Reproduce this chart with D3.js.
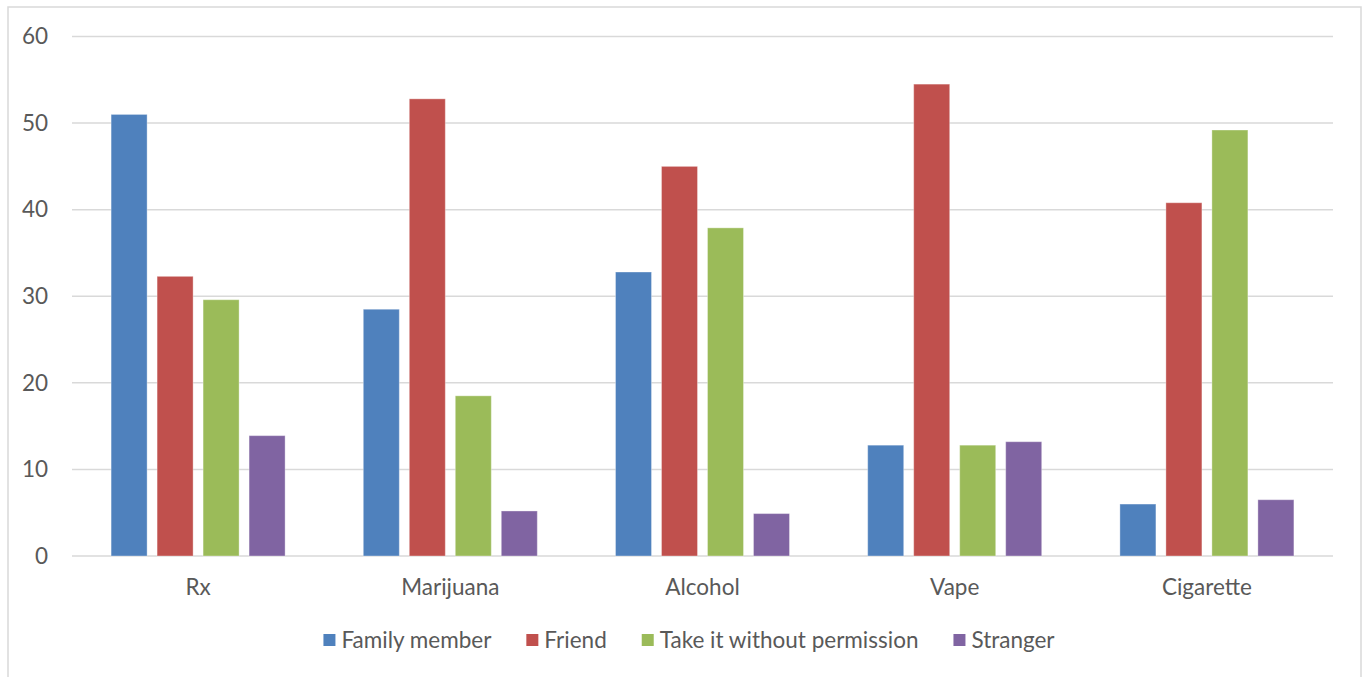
<!DOCTYPE html>
<html>
<head>
<meta charset="utf-8">
<script src="https://cdn.jsdelivr.net/npm/d3@7"></script>
<style>
  body { margin: 0; background: #fff; }
  text { font-family: Lato, "Open Sans", sans-serif; fill: #595959; }
</style>
</head>
<body>
<svg width="1364" height="677"></svg>
<script>
var categories = ["Rx", "Marijuana", "Alcohol", "Vape", "Cigarette"];
var seriesNames = ["Family member", "Friend", "Take it without permission", "Stranger"];
var familyMember = [51, 28.5, 32.8, 12.8, 6.0];
var friend = [32.3, 52.8, 45.0, 54.5, 40.8];
var takeIt = [29.6, 18.5, 37.9, 12.8, 49.2];
var stranger = [13.9, 5.2, 4.9, 13.2, 6.5];
var yTicks = [0, 10, 20, 30, 40, 50, 60];
var colors = ["#4F81BD", "#C0504D", "#9BBB59", "#8064A2"];

var values = [familyMember, friend, takeIt, stranger];

var svg = d3.select("svg");
var fontSize = "22.5px";

// outer frame
svg.append("rect")
    .attr("x", 8).attr("y", 7)
    .attr("width", 1353).attr("height", 700)
    .attr("fill", "none")
    .attr("stroke", "#d9d9d9")
    .attr("stroke-width", 1.5);

var plotLeft = 72, plotRight = 1333, plotTop = 36.5, plotBottom = 556;

var x0 = d3.scaleBand().domain(categories).range([plotLeft, plotRight]).padding(0);
var x1 = d3.scaleBand().domain(d3.range(seriesNames.length))
    .range([0, x0.bandwidth()]).paddingInner(0.217).paddingOuter(0.85);
var y = d3.scaleLinear().domain([0, 60]).range([plotBottom, plotTop]);

// gridlines
svg.append("g").selectAll("line")
    .data(yTicks)
    .enter().append("line")
    .attr("x1", plotLeft).attr("x2", plotRight)
    .attr("y1", function(d) { return y(d); })
    .attr("y2", function(d) { return y(d); })
    .attr("stroke", "#d9d9d9")
    .attr("stroke-width", 1.5);

// y labels
var yAxis = svg.append("g")
    .attr("transform", "translate(" + plotLeft + ",0)")
    .call(d3.axisLeft(y).tickValues(yTicks).tickSize(0).tickPadding(24));
yAxis.select(".domain").remove();
yAxis.selectAll("text")
    .attr("font-size", fontSize)
    .style("font-family", "Lato, sans-serif")
    .attr("fill", "#595959");

// bars
var groups = svg.append("g").selectAll("g")
    .data(categories)
    .enter().append("g")
    .attr("transform", function(d) { return "translate(" + x0(d) + ",0)"; });

groups.selectAll("rect")
    .data(function(d, ci) {
        return values.map(function(s, si) { return { si: si, v: s[ci] }; });
    })
    .enter().append("rect")
    .attr("x", function(d) { return x1(d.si); })
    .attr("y", function(d) { return y(d.v); })
    .attr("width", x1.bandwidth())
    .attr("height", function(d) { return y(0) - y(d.v); })
    .attr("fill", function(d) { return colors[d.si]; })
    .attr("stroke", "#ffffff")
    .attr("stroke-opacity", 0.35)
    .attr("stroke-width", 1);

// x labels
var xAxis = svg.append("g")
    .attr("transform", "translate(0," + plotBottom + ")")
    .call(d3.axisBottom(x0).tickSize(0).tickPadding(23));
xAxis.select(".domain").remove();
xAxis.selectAll("text")
    .attr("font-size", fontSize)
    .style("font-family", "Lato, sans-serif")
    .attr("fill", "#595959");

// legend
var legend = svg.append("g");
var items = legend.selectAll("g")
    .data(seriesNames)
    .enter().append("g");
items.append("rect")
    .attr("width", 12).attr("height", 12)
    .attr("y", -6)
    .attr("fill", function(d, i) { return colors[i]; });
items.append("text")
    .attr("x", 18)
    .attr("dy", "0.35em")
    .attr("font-size", fontSize)
    .text(function(d) { return d; });

var pos = 0;
items.each(function() {
    var w = d3.select(this).select("text").node().getComputedTextLength();
    d3.select(this).attr("transform", "translate(" + pos + ",0)");
    pos += 18 + w + 35;
});
var total = pos - 35;
legend.attr("transform", "translate(" + (689 - total / 2) + ",640)");
</script>
</body>
</html>
